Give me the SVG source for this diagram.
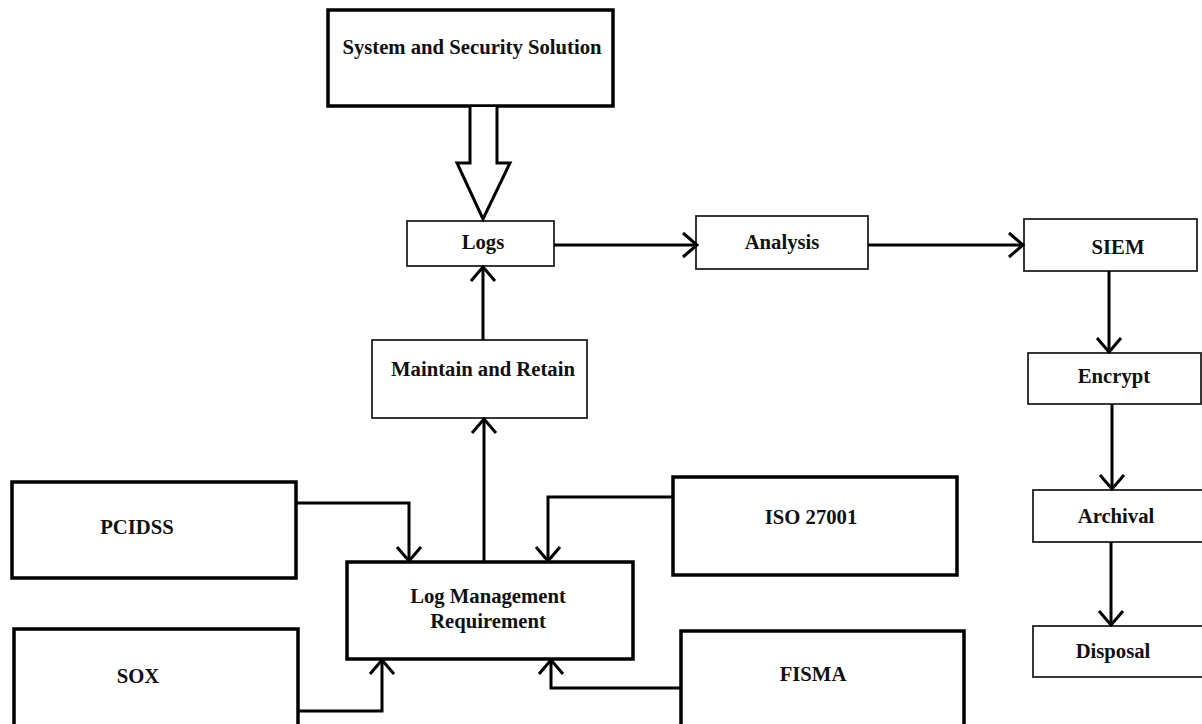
<svg xmlns="http://www.w3.org/2000/svg" width="1202" height="724" viewBox="0 0 1202 724">
<style>
.thick{fill:#fff;stroke:#000;stroke-width:3.5}
.thin{fill:#fff;stroke:#222;stroke-width:1.8}
.lbl{font-family:"Liberation Serif","Times New Roman",serif;font-weight:bold;font-size:20.7px;fill:#111;text-anchor:middle}
.conn{fill:none;stroke:#000;stroke-width:3}
</style>
<defs>
<marker id="arr" markerUnits="userSpaceOnUse" viewBox="-16 -14 18 28" refX="0" refY="0" markerWidth="18" markerHeight="28" orient="auto">
<path d="M-14,-12 L0,0 L-14,12" fill="none" stroke="#000" stroke-width="3"/>
</marker>
</defs>
<g id="n-system"><rect class="thick" x="328" y="10" width="285" height="96"/><text class="lbl" x="472" y="54">System and Security Solution</text></g>
<g id="n-logs"><rect class="thin" x="407" y="221" width="147" height="45"/><text class="lbl" x="483" y="249">Logs</text></g>
<g id="n-analysis"><rect class="thin" x="696" y="216" width="172" height="53"/><text class="lbl" x="782" y="249">Analysis</text></g>
<g id="n-siem"><rect class="thin" x="1024" y="219" width="173" height="52"/><text class="lbl" x="1118" y="254">SIEM</text></g>
<g id="n-encrypt"><rect class="thin" x="1028" y="353" width="173" height="51"/><text class="lbl" x="1114" y="383">Encrypt</text></g>
<g id="n-archival"><rect class="thin" x="1033" y="490" width="172" height="52"/><text class="lbl" x="1116" y="523">Archival</text></g>
<g id="n-disposal"><rect class="thin" x="1033" y="626" width="172" height="51"/><text class="lbl" x="1113" y="658">Disposal</text></g>
<g id="n-maintain"><rect class="thin" x="372" y="340" width="215" height="78"/><text class="lbl" x="483" y="376">Maintain and Retain</text></g>
<g id="n-logmgmt"><rect class="thick" x="347" y="562" width="286" height="97"/><text class="lbl" x="488" y="603">Log Management</text><text class="lbl" x="488" y="628">Requirement</text></g>
<g id="n-pcidss"><rect class="thick" x="12" y="482" width="284" height="96"/><text class="lbl" x="137" y="534">PCIDSS</text></g>
<g id="n-sox"><rect class="thick" x="14" y="629" width="284" height="110"/><text class="lbl" x="138" y="683">SOX</text></g>
<g id="n-iso"><rect class="thick" x="673" y="477" width="284" height="98"/><text class="lbl" x="811" y="524">ISO 27001</text></g>
<g id="n-fisma"><rect class="thick" x="681" y="631" width="283" height="110"/><text class="lbl" x="813" y="681">FISMA</text></g>
<g id="connectors">
<path d="M470,107 L470,163 L457,163 L483,219 L510,163 L497,163 L497,107" fill="#fff" stroke="#000" stroke-width="3" stroke-linejoin="miter"/>
<path class="conn" d="M554,245 L697,245" marker-end="url(#arr)"/>
<path class="conn" d="M868,245 L1023,245" marker-end="url(#arr)"/>
<path class="conn" d="M1109,271 L1109,352" marker-end="url(#arr)"/>
<path class="conn" d="M1112,404 L1112,489" marker-end="url(#arr)"/>
<path class="conn" d="M1111,542 L1111,625" marker-end="url(#arr)"/>
<path class="conn" d="M484,562 L484,419" marker-end="url(#arr)"/>
<path class="conn" d="M483,340 L483,267" marker-end="url(#arr)"/>
<path class="conn" d="M296,503 L409,503 L409,561" marker-end="url(#arr)"/>
<path class="conn" d="M673,497 L548,497 L548,561" marker-end="url(#arr)"/>
<path class="conn" d="M298,711 L382,711 L382,660" marker-end="url(#arr)"/>
<path class="conn" d="M681,688 L551,688 L551,660" marker-end="url(#arr)"/>
</g>
</svg>
